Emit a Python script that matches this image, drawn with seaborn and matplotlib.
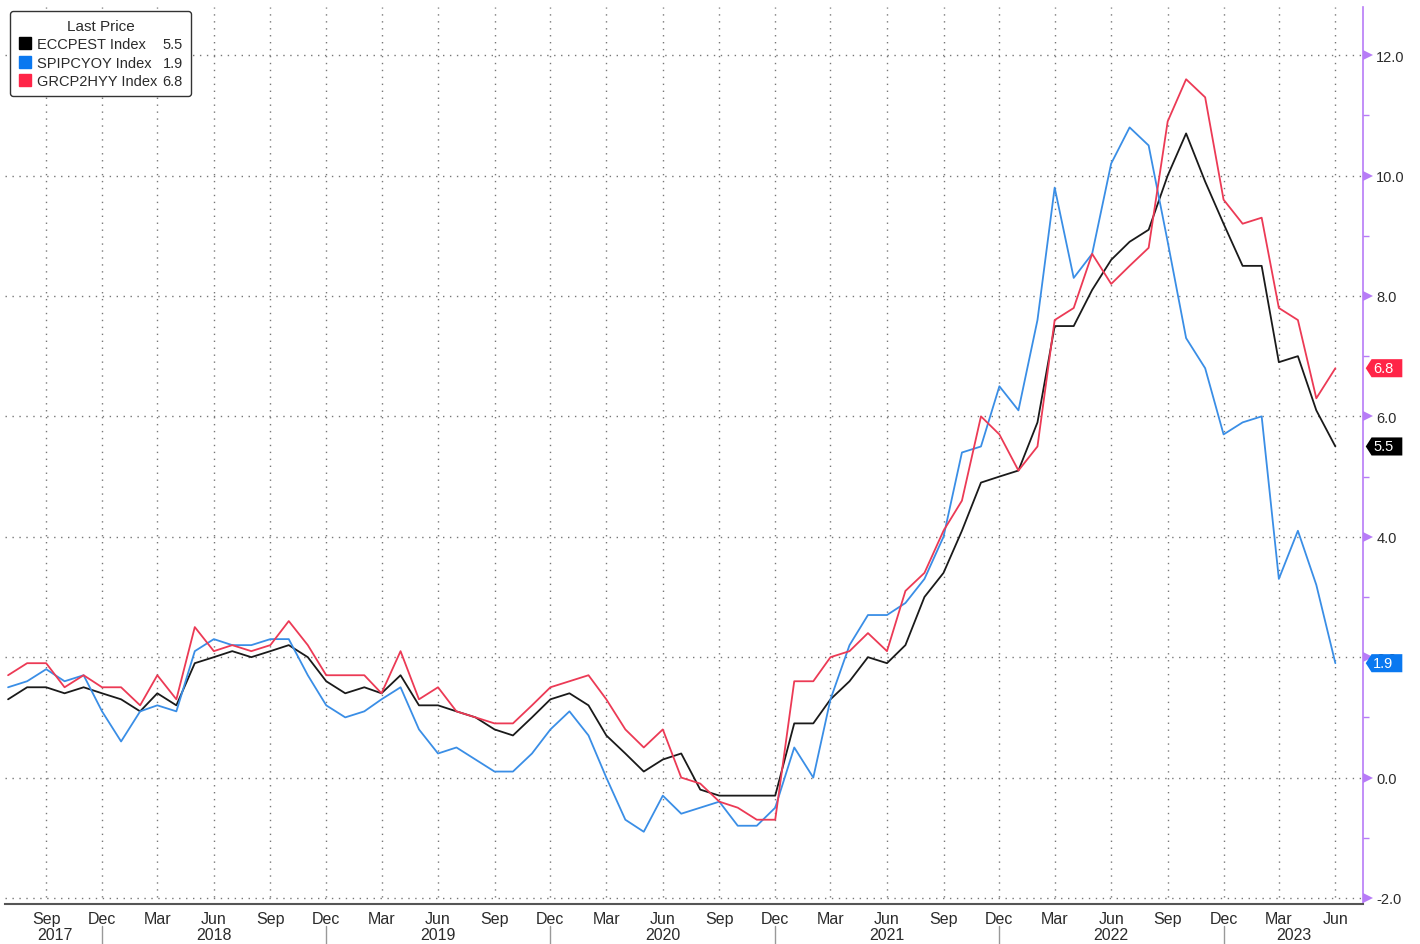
import matplotlib
matplotlib.use("Agg")
import matplotlib.pyplot as plt
import matplotlib.dates as mdates
import matplotlib.transforms as mtransforms
from matplotlib.lines import Line2D
from matplotlib.path import Path
from matplotlib.ticker import MultipleLocator
import numpy as np
import pandas as pd
import seaborn as sns

# monthly readings, Jul 2017 .. Jun 2023
months = pd.date_range("2017-07-01", "2023-06-01", freq="MS")

eccpest = [1.3, 1.5, 1.5, 1.4, 1.5, 1.4,
           1.3, 1.1, 1.4, 1.2, 1.9, 2.0, 2.1, 2.0, 2.1, 2.2, 2.0, 1.6,
           1.4, 1.5, 1.4, 1.7, 1.2, 1.2, 1.1, 1.0, 0.8, 0.7, 1.0, 1.3,
           1.4, 1.2, 0.7, 0.4, 0.1, 0.3, 0.4, -0.2, -0.3, -0.3, -0.3, -0.3,
           0.9, 0.9, 1.3, 1.6, 2.0, 1.9, 2.2, 3.0, 3.4, 4.1, 4.9, 5.0,
           5.1, 5.9, 7.5, 7.5, 8.1, 8.6, 8.9, 9.1, 10.0, 10.7, 9.9, 9.2,
           8.5, 8.5, 6.9, 7.0, 6.1, 5.5]
spipcyoy = [1.5, 1.6, 1.8, 1.6, 1.7, 1.1,
            0.6, 1.1, 1.2, 1.1, 2.1, 2.3, 2.2, 2.2, 2.3, 2.3, 1.7, 1.2,
            1.0, 1.1, 1.3, 1.5, 0.8, 0.4, 0.5, 0.3, 0.1, 0.1, 0.4, 0.8,
            1.1, 0.7, 0.0, -0.7, -0.9, -0.3, -0.6, -0.5, -0.4, -0.8, -0.8, -0.5,
            0.5, 0.0, 1.3, 2.2, 2.7, 2.7, 2.9, 3.3, 4.0, 5.4, 5.5, 6.5,
            6.1, 7.6, 9.8, 8.3, 8.7, 10.2, 10.8, 10.5, 8.9, 7.3, 6.8, 5.7,
            5.9, 6.0, 3.3, 4.1, 3.2, 1.9]
grcp2hyy = [1.7, 1.9, 1.9, 1.5, 1.7, 1.5,
            1.5, 1.2, 1.7, 1.3, 2.5, 2.1, 2.2, 2.1, 2.2, 2.6, 2.2, 1.7,
            1.7, 1.7, 1.4, 2.1, 1.3, 1.5, 1.1, 1.0, 0.9, 0.9, 1.2, 1.5,
            1.6, 1.7, 1.3, 0.8, 0.5, 0.8, 0.0, -0.1, -0.4, -0.5, -0.7, -0.7,
            1.6, 1.6, 2.0, 2.1, 2.4, 2.1, 3.1, 3.4, 4.1, 4.6, 6.0, 5.7,
            5.1, 5.5, 7.6, 7.8, 8.7, 8.2, 8.5, 8.8, 10.9, 11.6, 11.3, 9.6,
            9.2, 9.3, 7.8, 7.6, 6.3, 6.8]

series_names = ["ECCPEST Index", "SPIPCYOY Index", "GRCP2HYY Index"]
series_values = [eccpest, spipcyoy, grcp2hyy]
line_colors = ["#1a1a1a", "#3a8ee6", "#ec3a55"]
tag_colors = ["#000000", "#0a78f0", "#ff2447"]
y_ticks = [-2, 0, 2, 4, 6, 8, 10, 12]
year_labels = ["2017", "2018", "2019", "2020", "2021", "2022", "2023"]
year_label_dates = ["2017-09-15", "2018-06-01", "2019-06-01", "2020-06-01",
                    "2021-06-01", "2022-06-01", "2023-03-25"]
year_breaks = ["2017-12-01", "2018-12-01", "2019-12-01", "2020-12-01",
               "2021-12-01", "2022-12-01"]

purple = "#b77cf7"
text_col = "#2b2b2b"

df = pd.DataFrame({
    "date": np.tile(months, len(series_names)),
    "series": np.repeat(series_names, len(months)),
    "value": np.concatenate(series_values),
})

sns.set_style("white")
plt.rcParams["font.family"] = ["Liberation Sans", "DejaVu Sans"]

fig = plt.figure(figsize=(14.2, 9.45), dpi=100)
ax = fig.add_axes([5 / 1420, 40 / 945, 1358 / 1420, 897 / 945])

sns.lineplot(data=df, x="date", y="value", hue="series",
             palette=dict(zip(series_names, line_colors)),
             linewidth=1.3, legend=False, ax=ax)

# right-hand axis, Bloomberg style: purple spine with arrow heads at majors
trans_y = mtransforms.blended_transform_factory(ax.transAxes, ax.transData)
trans_caret = mtransforms.offset_copy(trans_y, fig=fig, x=5, y=0, units="dots")
ax.plot(np.ones(len(y_ticks)), y_ticks, linestyle="none", marker=">",
        markersize=7, color=purple, markeredgewidth=0,
        transform=trans_caret, clip_on=False)

ax.set_xlim(pd.Timestamp("2017-06-26"), pd.Timestamp("2023-07-16"))
ax.set_ylim(-2.1, 12.8)

ax.yaxis.tick_right()
ax.set_yticks(y_ticks)
ax.set_yticklabels([f"{v:.1f}" for v in y_ticks])
ax.yaxis.set_minor_locator(MultipleLocator(1))
ax.tick_params(axis="y", which="major", length=0, pad=9.5,
               labelsize=10.5, labelcolor=text_col)
ax.tick_params(axis="y", which="minor", length=4, width=1, color=purple)

ax.xaxis.set_major_locator(mdates.MonthLocator(bymonth=[3, 6, 9, 12]))
ax.xaxis.set_major_formatter(mdates.DateFormatter("%b"))
ax.xaxis.set_minor_locator(mdates.MonthLocator())
ax.tick_params(axis="x", which="both", length=4, width=1, color="#555555",
               labelsize=11.5, labelcolor=text_col, pad=1)
ax.set_xlabel("")
ax.set_ylabel("")

ax.grid(True, which="major", axis="both", linestyle=(0, (1, 4)),
        color="#777777", linewidth=1)

for side in ["left", "top"]:
    ax.spines[side].set_visible(False)
ax.spines["right"].set_color(purple)
ax.spines["right"].set_linewidth(1.2)
ax.spines["bottom"].set_color("#555555")
ax.spines["bottom"].set_linewidth(1.5)

# year row under the month labels
trans_x = mtransforms.blended_transform_factory(ax.transData, ax.transAxes)
for d, yr in zip(year_label_dates, year_labels):
    ax.text(pd.Timestamp(d), -0.034, yr, transform=trans_x, ha="center",
            va="center", fontsize=11.5, color=text_col)
for d in year_breaks:
    ax.axvline(pd.Timestamp(d), ymin=-0.046, ymax=-0.025, color="#999999",
               linewidth=1, clip_on=False)


def tag_box(x0, y0, width, height, mutation_size):
    pad_y = 0.14 * mutation_size
    left = x0 - 0.12 * mutation_size
    right = x0 + width + 0.6 * mutation_size
    bottom = y0 - pad_y
    top = y0 + height + pad_y
    mid = (top + bottom) / 2
    tip = left - 0.4 * mutation_size
    verts = [(tip, mid), (left, top), (right, top), (right, bottom),
             (left, bottom), (tip, mid)]
    return Path(verts, closed=True)


# last-value tags on the axis
for vals, c in zip(series_values, tag_colors):
    ax.text(1.0076, vals[-1], f"{vals[-1]:.1f}", transform=trans_y,
            ha="left", va="center", color="white", fontsize=10.5,
            bbox=dict(boxstyle=tag_box, fc=c, ec="none"), clip_on=False,
            zorder=5)

# legend: names in one column, last values in the next
name_handles = [Line2D([], [], marker="s", linestyle="none", color=c,
                       markersize=9) for c in tag_colors]
value_handles = [Line2D([], [], linestyle="none") for _ in series_names]
value_labels = [f"{v[-1]:.1f}" for v in series_values]
leg = ax.legend(name_handles + value_handles, series_names + value_labels,
                ncol=2, title="Last Price", loc="upper left",
                bbox_to_anchor=(0.0037, 0.9955), fontsize=10.5,
                title_fontsize=11, frameon=True, fancybox=True,
                edgecolor="#333333", framealpha=1, handlelength=0.9,
                handletextpad=0.4, columnspacing=-0.95, labelspacing=0.3,
                borderpad=0.55, borderaxespad=0)
leg.get_frame().set_linewidth(1.0)
for t in leg.get_texts():
    t.set_color(text_col)
leg.get_title().set_color(text_col)

fig.savefig("out.png", dpi=100)
